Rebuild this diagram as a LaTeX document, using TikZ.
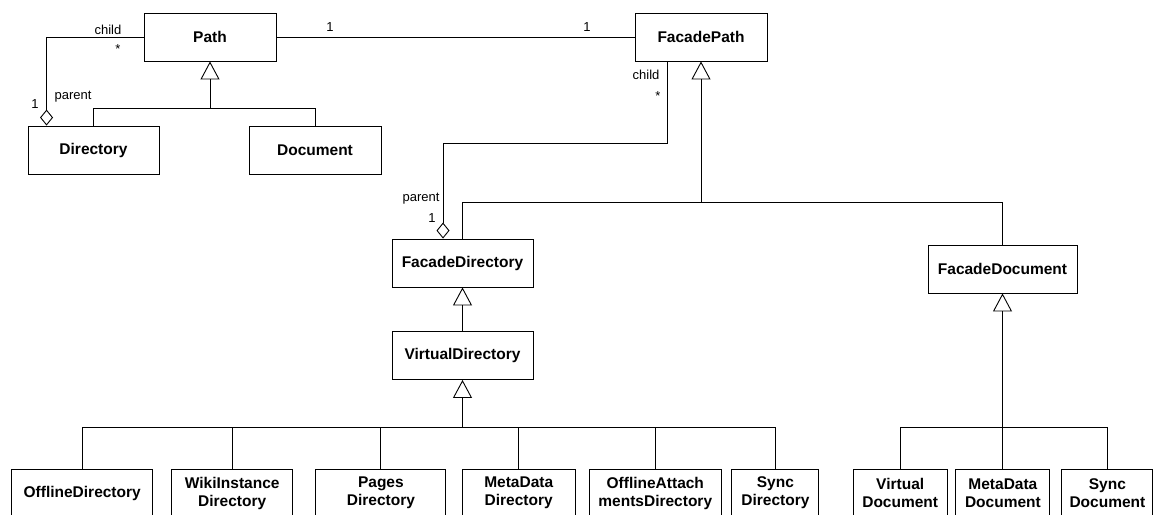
\documentclass[tikz,border=0pt]{standalone}
\usepackage{fontspec}
\setmainfont{Liberation Sans}
\usepackage{tikz}
\usetikzlibrary{arrows.meta}
\tikzset{cls/.style = {draw, align = center, minimum height = 48pt, inner sep = 2pt,
                       font = \bfseries\fontsize{15.5}{18}\selectfont}}
\tikzset{lbl/.style = {anchor = base, inner sep = 0, font = \fontsize{13}{15}\selectfont}}
\tikzset{inh/.style = {-{Triangle[open, length = 18pt, width = 19pt]}}}
\tikzset{agg/.style = {-{Diamond[open, length = 16pt, width = 13pt]}}}

\begin{document}
\begin{tikzpicture}[x = 1pt, y = -1pt, line width = 0.9pt]
    \useasboundingbox (0, 0) rectangle (1156, 514);
    \clip (0, 0) rectangle (1156, 514);

    \node [cls, minimum width = 132pt] (path) at (210, 37) {Path};
    \node [cls, minimum width = 131pt] (dir) at (93.5, 150) {Directory};
    \node [cls, minimum width = 132pt] (doc) at (315, 150) {Document};
    \node [cls, minimum width = 132pt] (fpath) at (701, 37) {FacadePath};
    \node [cls, minimum width = 141pt] (fdir) at (462.5, 263) {FacadeDirectory};
    \node [cls, minimum width = 141pt] (vdir) at (462.5, 355.5) {VirtualDirectory};
    \node [cls, minimum width = 149pt] (fdoc) at (1002.5, 269) {FacadeDocument};

    \node [cls, minimum width = 141pt] (off) at (82.2, 493) {OfflineDirectory};
    \node [cls, minimum width = 121pt] (wiki) at (232.2, 493) {WikiInstance\\Directory};
    \node [cls, minimum width = 130pt] (pages) at (380.9, 493) {Pages\\Directory};
    \node [cls, minimum width = 113pt] (meta) at (518.7, 493) {MetaData\\Directory};
    \node [cls, minimum width = 132pt] (attach) at (655.3, 493) {OfflineAttach\\mentsDirectory};
    \node [cls, minimum width = 87pt] (sync) at (775.4, 493) {Sync\\Directory};
    \node [cls, minimum width = 94pt] (vdoc) at (900.2, 493) {Virtual\\Document};
    \node [cls, minimum width = 94pt] (mdoc) at (1002.9, 493) {MetaData\\Document};
    \node [cls, minimum width = 91pt] (sdoc) at (1107.4, 493) {Sync\\Document};

    \coordinate (pbus) at (210, 108);
    \coordinate (fbus) at (701, 202);
    \coordinate (vbus) at (462.5, 427);
    \coordinate (dbus) at (1002.5, 427);

    % Path side
    \draw (path.east) -- (fpath.west);
    \draw [agg] (path.west) -| ([xshift = 19pt]dir.north west);
    \draw (dir.north) |- (pbus);
    \draw (doc.north) |- (pbus);
    \draw [inh] (pbus) -- (path);

    % FacadePath side
    \draw [agg] ([xshift = -34pt]fpath.south) -- ++(0, 82) -| ([xshift = -19.5pt]fdir.north);
    \draw (fdir.north) |- (fbus);
    \draw (fdoc.north) |- (fbus);
    \draw [inh] (fbus) -- (fpath);
    \draw [inh] (vdir) -- (fdir);

    \draw (off.north) |- (vbus);
    \draw (wiki.north) |- (vbus);
    \draw (pages.north) |- (vbus);
    \draw (meta.north) |- (vbus);
    \draw (attach.north) |- (vbus);
    \draw (sync.north) |- (vbus);
    \draw [inh] (vbus) -- (vdir);

    \draw (vdoc.north) |- (dbus);
    \draw (mdoc.north) |- (dbus);
    \draw (sdoc.north) |- (dbus);
    \draw [inh] (dbus) -- (fdoc);

    \node [lbl] (pchild) at (108, 34) {child};
    \node [lbl] (pmany) at (118, 53) {*};
    \node [lbl] (pparent) at (73, 99) {parent};
    \node [lbl] (pone) at (35, 108) {1};
    \node [lbl] (lone) at (330, 31) {1};
    \node [lbl] (rone) at (587, 31) {1};
    \node [lbl] (fchild) at (646, 79) {child};
    \node [lbl] (fmany) at (658, 100) {*};
    \node [lbl] (fparent) at (421, 201) {parent};
    \node [lbl] (fone) at (432, 222) {1};
\end{tikzpicture}
\end{document}
